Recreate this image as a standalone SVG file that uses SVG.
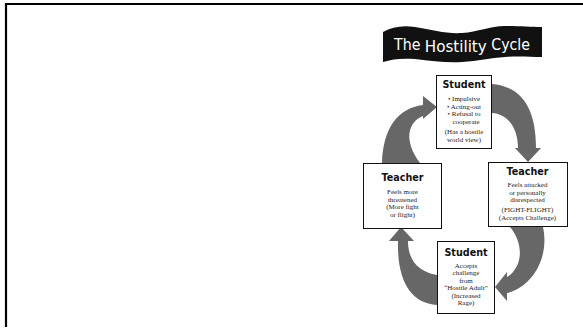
<svg xmlns="http://www.w3.org/2000/svg" width="583" height="328" viewBox="0 0 583 328">
<style>
.box{fill:#fff;stroke:#111;stroke-width:1}
.arrow{fill:#676767}
.hd{font-family:"DejaVu Sans","Liberation Sans",sans-serif;font-weight:bold;font-size:9.6px;fill:#111;text-anchor:middle}
.bd{font-family:"Liberation Serif","DejaVu Serif",serif;font-size:7px;fill:#222;text-anchor:middle}
.ttl{font-family:"DejaVu Sans","Liberation Sans",sans-serif;font-size:15px;fill:#fff}
</style>
<rect width="583" height="328" fill="#fff"/>
<path d="M6,327 V4 H583" fill="none" stroke="#000" stroke-width="2.2"/>
<g id="title">
<path d="M383,32 C392,27 402,25 415,27 C432,30 447,34 462,33 C478,32 490,26 505,26 C520,26 530,27 542,27 L542,57 C530,57 520,56 505,57 C490,58 478,61 462,62 C447,63 432,61 415,59 C402,58 392,59 383,62 Z" fill="#111"/>
<text class="ttl" x="394" y="50" textLength="136" lengthAdjust="spacingAndGlyphs">The <tspan font-size="16" dy="2">Hostility</tspan> <tspan dy="-2">Cycle</tspan></text>
</g>
<g id="connectors">
<path class="arrow" d="M382,163 C383,128 398,108 423,105 L423,96 L437,107 L423,119 L423,116 C408,122 403,140 420,163 Z"/>
<path class="arrow" d="M492,84 C515,86 536,100 536,148 L541,148 L528,162 L515,148 L518,148 C518,128 508,114 492,113 Z"/>
<path class="arrow" d="M510,227 C525,245 522,268 507,277 L507,272 L495,287 L507,301 L507,293 C530,288 550,260 543,227 Z"/>
<path class="arrow" d="M398,241 C397,280 410,303 437,305 L437,275 C420,272 408,262 408,241 L414,241 L401,227 L389,241 Z"/>
</g>
<g id="student-top">
<rect class="box" x="436.5" y="75.5" width="55" height="73"/>
<text class="hd" x="464" y="88">Student</text>
<text class="bd" x="464" y="101">• Impulsive</text>
<text class="bd" x="464" y="108.5">• Acting-out</text>
<text class="bd" x="464" y="116">• Refusal to</text>
<text class="bd" x="466" y="123.5">cooperate</text>
<text class="bd" x="464" y="134">(Has a hostile</text>
<text class="bd" x="464" y="141.5">world view)</text>
</g>
<g id="teacher-left">
<rect class="box" x="363.5" y="163.5" width="78" height="65"/>
<text class="hd" x="402.5" y="181">Teacher</text>
<text class="bd" x="402.5" y="194">Feels more</text>
<text class="bd" x="402.5" y="201.5">threatened</text>
<text class="bd" x="402.5" y="209">(More fight</text>
<text class="bd" x="402.5" y="216.5">or flight)</text>
</g>
<g id="teacher-right">
<rect class="box" x="488.5" y="162.5" width="79" height="64"/>
<text class="hd" x="527.5" y="174.5">Teacher</text>
<text class="bd" x="527.5" y="187">Feels attacked</text>
<text class="bd" x="527.5" y="194.5">or personally</text>
<text class="bd" x="527.5" y="202">disrespected</text>
<text class="bd" x="527.5" y="212">(FIGHT-FLIGHT)</text>
<text class="bd" x="527.5" y="219.5">(Accepts Challenge)</text>
</g>
<g id="student-bottom">
<rect class="box" x="437.5" y="241.5" width="57" height="72"/>
<text class="hd" x="466" y="255.5">Student</text>
<text class="bd" x="466" y="267.5">Accepts</text>
<text class="bd" x="466" y="275">challenge</text>
<text class="bd" x="466" y="282.5">from</text>
<text class="bd" x="466" y="290">“Hostile Adult”</text>
<text class="bd" x="466" y="297.5">(Increased</text>
<text class="bd" x="466" y="305">Rage)</text>
</g>
</svg>
